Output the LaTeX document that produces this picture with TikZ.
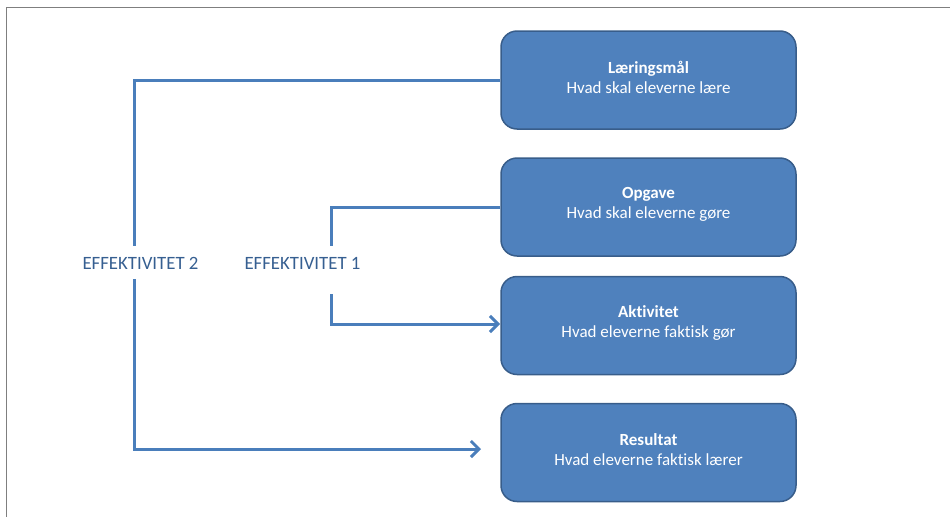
\documentclass[tikz,border=0pt]{standalone}
\usepackage{fontspec}
\setmainfont[Ligatures=NoCommon]{Carlito}
\usetikzlibrary{arrows.meta}
\definecolor{boxfill}{HTML}{4F81BD}
\definecolor{boxline}{HTML}{385D8A}
\definecolor{linkblue}{HTML}{4A7EBB}
\definecolor{labelblue}{HTML}{365F91}
\definecolor{framegray}{HTML}{7F7F7F}
\begin{document}
\begin{tikzpicture}[x=1pt,y=-1pt,
  stagebox/.style={draw=boxline, line width=1.5pt, fill=boxfill,
    rounded corners=16pt, minimum width=295pt, minimum height=98pt,
    text=white, align=center, font=\fontsize{17}{20}\selectfont},
  stagetext/.style={text=white, align=center, font=\fontsize{17}{20}\selectfont, inner sep=0pt},
  link/.style={draw=linkblue, line width=3pt},
  tag/.style={text=labelblue, font=\fontsize{18.8}{20}\selectfont, inner sep=0pt},
  >={Straight Barb[length=8pt,width=16pt]}]
\useasboundingbox (0,0) rectangle (950,517);
% partial frame along the top and left edges
\draw[framegray, line width=1.3pt] (950,7.5) -- (6.5,7.5) -- (6.5,517);

% the four stages
\node[stagebox] (l1) at (648.5,80)    {};
\node[stagebox] (l2) at (648.5,207)   {};
\node[stagebox] (l3) at (648.5,325.5) {};
\node[stagebox] (l4) at (648.5,452.5) {};
\node[stagetext] (t1) at ([yshift=3pt]l1.center) {\textbf{Læringsmål}\\Hvad skal eleverne lære};
\node[stagetext] (t2) at ([yshift=3pt]l2.center) {\textbf{Opgave}\\Hvad skal eleverne gøre};
\node[stagetext] (t3) at ([yshift=3pt]l3.center) {\textbf{Aktivitet}\\Hvad eleverne faktisk gør};
\node[stagetext] (t4) at ([yshift=3pt]l4.center) {\textbf{Resultat}\\Hvad eleverne faktisk lærer};

% efficiency labels
\node[tag] (e2) at (140.5,263) {EFFEKTIVITET 2};
\node[tag] (e1) at (302.5,263) {EFFEKTIVITET 1};

% connector end points around the labels
\coordinate (c2top) at (134.5,246);
\coordinate (c2bot) at (134.5,279);
\coordinate (c1top) at (331,246);
\coordinate (c1bot) at (331,294);
\coordinate (tip3) at (500,324);
\coordinate (tip4) at (481,449);

\draw[link] (l1.west) -| (c2top);
\draw[link,->] (c2bot) |- (tip4);
\draw[link] (l2.west) -| (c1top);
\draw[link,->] (c1bot) |- (tip3);
\end{tikzpicture}
\end{document}
